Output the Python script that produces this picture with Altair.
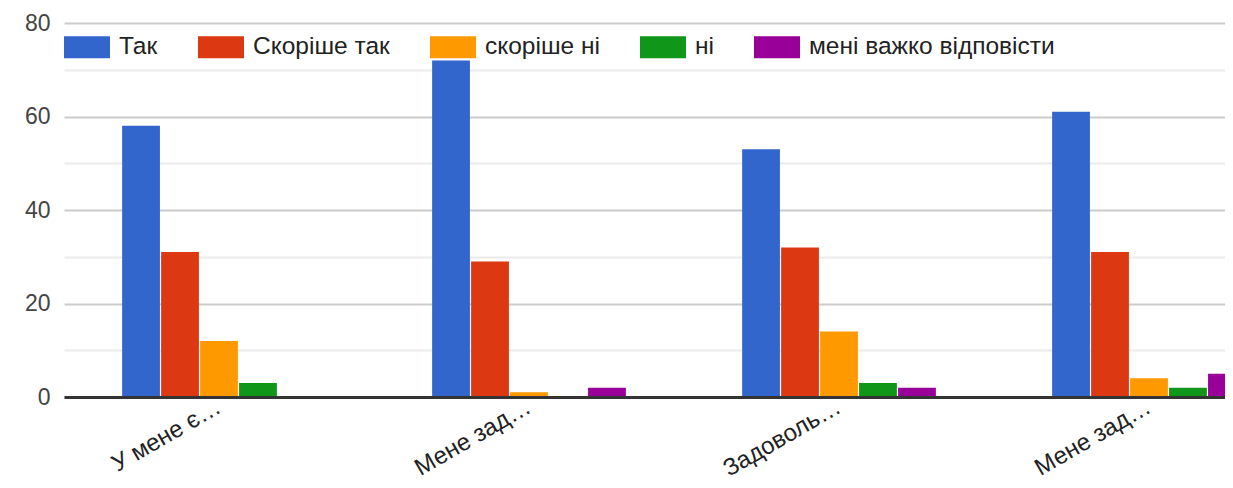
import json
import altair as alt
import pandas as pd

categories = ["У мене є…", "Мене зад…", "Задоволь…", "Мене зад…"]
series = ["Так", "Скоріше так", "скоріше ні", "ні", "мені важко відповісти"]
colors = ["#3366cc", "#dc3912", "#ff9900", "#109618", "#990099"]
tak = [58, 72, 53, 61]
skorishe_tak = [31, 29, 32, 31]
skorishe_ni = [12, 1, 14, 4]
ni = [3, 0, 3, 2]
vazhko = [0, 2, 2, 5]
y_ticks = [0, 10, 20, 30, 40, 50, 60, 70, 80]

rows = []
for i, cat in enumerate(categories):
    for s, vals in zip(series, [tak, skorishe_tak, skorishe_ni, ni, vazhko]):
        rows.append({"qi": i, "series": s, "value": vals[i]})
df = pd.DataFrame(rows)

label_expr = json.dumps(categories, ensure_ascii=False) + "[datum.value]"
FONT = "Liberation Sans"

chart = alt.Chart(df).mark_bar(clip=True).encode(
    x=alt.X(
        "qi:O", title=None,
        scale=alt.Scale(range=[2, 1242], paddingInner=0.375, paddingOuter=0.1875),
        axis=alt.Axis(
            labelExpr=label_expr, labelAngle=-30, labelAlign="right",
            labelBaseline="middle", labelPadding=8, labelFontSize=24,
            labelColor="#222222", labelFont=FONT, ticks=False,
            domainColor="#333333", domainWidth=3, grid=False, labelLimit=0,
            zindex=1,
        ),
    ),
    xOffset=alt.XOffset("series:N", sort=series,
                        scale=alt.Scale(paddingInner=0.03, paddingOuter=0)),
    y=alt.Y(
        "value:Q", title=None,
        scale=alt.Scale(domain=[0, 80], nice=False),
        axis=alt.Axis(
            values=y_ticks,
            labelExpr="datum.value % 20 === 0 ? datum.label : ''",
            gridColor=alt.condition("datum.value % 20 === 0",
                                    alt.value("#cccccc"), alt.value("#ebebeb")),
            gridWidth=2, domain=False, ticks=False, labelFontSize=23,
            labelColor="#444444", labelPadding=12, labelFont=FONT,
            labelOverlap=False,
        ),
    ),
    color=alt.Color(
        "series:N", scale=alt.Scale(domain=series, range=colors),
        legend=alt.Legend(
            title=None, orient="none", legendX=2, legendY=1,
            direction="horizontal", columns=5,
            symbolType="M-1,-0.478H1V0.478H-1Z", symbolSize=2116,
            symbolStrokeWidth=0, symbolOpacity=1,
            labelFontSize=24.5, labelFont=FONT, labelColor="#222222",
            labelOffset=9, columnPadding=40, padding=0, labelLimit=0,
        ),
    ),
).properties(
    width=1163, height=374,
    autosize=alt.AutoSizeParams(type="none"),
    padding={"left": 54, "top": 15, "right": 0, "bottom": 83},
).configure_view(stroke=None)

chart.save("out.html", embed_options={"renderer": "svg", "actions": False})
